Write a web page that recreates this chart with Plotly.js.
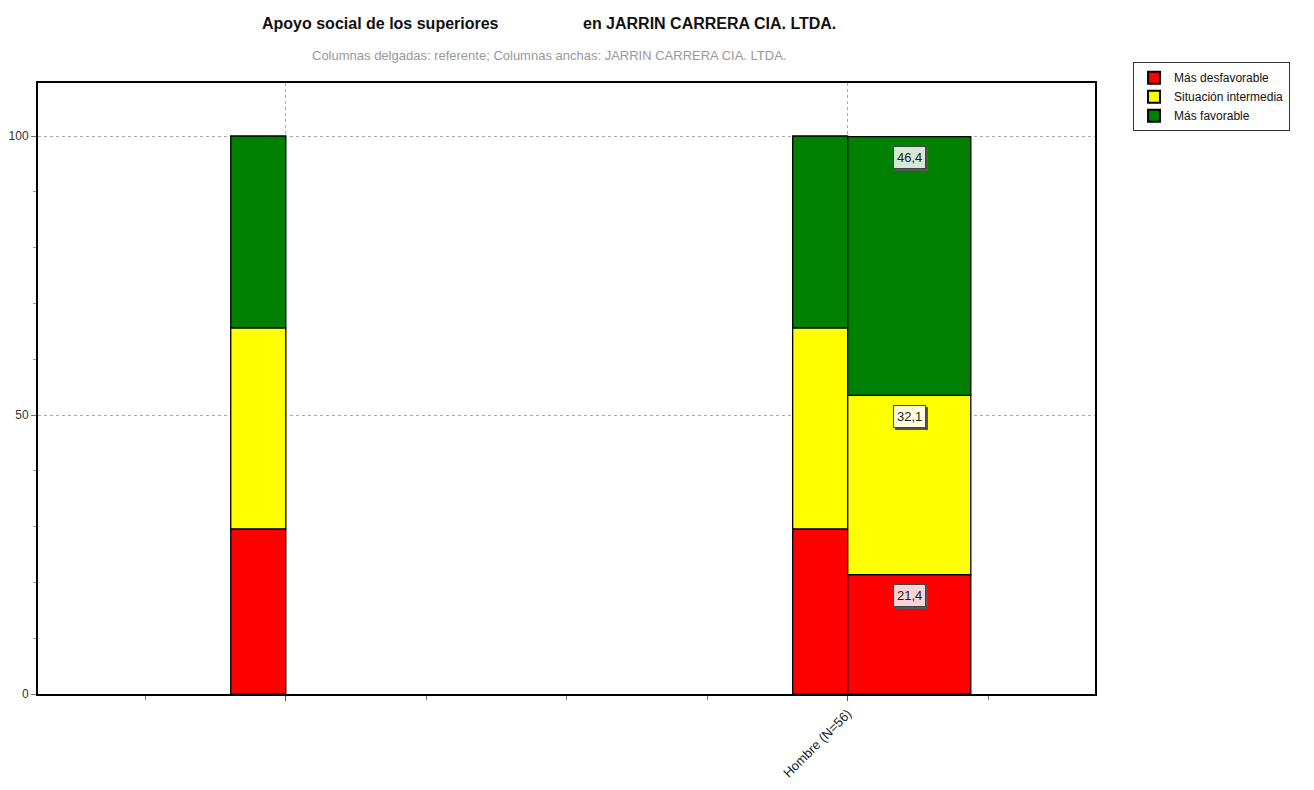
<!DOCTYPE html>
<html>
<head>
<meta charset="utf-8">
<script src="https://cdn.plot.ly/plotly-3.0.1.min.js"></script>
<style>
  html, body { margin: 0; padding: 0; background: #fff; }
  #chart { width: 1314px; height: 790px; }
</style>
</head>
<body>
<div id="chart"></div>
<script>
// Group positions on the x axis and their tick labels
const groupPos = [0, 1];
const groupLabels = ['', 'Hombre (N=56)'];

// Response levels and their colours
const levels = ['Más desfavorable', 'Situación intermedia', 'Más favorable'];
const levelColors = ['#FF0000', '#FFFF00', '#008000'];
const labelBg = ['#F8D4D4', '#FFFFE0', '#D4EAD4'];

// Thin columns: reference population (%)
const refDesfavorable = [29.6, 29.6];
const refIntermedia = [36.0, 36.0];
const refFavorable = [34.4, 34.4];

// Wide columns: company (%)
const empDesfavorable = [null, 21.4];
const empIntermedia = [null, 32.1];
const empFavorable = [null, 46.4];

const thinW = 0.098;
const wideW = 0.219;

const refSeries = [refDesfavorable, refIntermedia, refFavorable];
const empSeries = [empDesfavorable, empIntermedia, empFavorable];

function stackBases(series) {
  const bases = [];
  let run = series[0].map(() => 0);
  series.forEach(s => {
    bases.push(run.slice());
    run = run.map((b, i) => b + (s[i] == null ? 0 : s[i]));
  });
  return bases;
}

const refBases = stackBases(refSeries);
const empBases = stackBases(empSeries);

const traces = [];
levels.forEach((name, k) => {
  traces.push({
    type: 'bar', x: groupPos, y: refSeries[k], base: refBases[k],
    offset: -thinW, width: thinW, name: name, legendgroup: name,
    showlegend: true,
    marker: { color: levelColors[k], line: { color: '#000', width: 1.3 } },
    hoverinfo: 'skip'
  });
});
levels.forEach((name, k) => {
  traces.push({
    type: 'bar', x: groupPos, y: empSeries[k], base: empBases[k],
    offset: 0, width: wideW, name: name, legendgroup: name,
    showlegend: false,
    marker: { color: levelColors[k], line: { color: '#000', width: 1.3 } },
    hoverinfo: 'skip'
  });
});

// Value labels near the top of each wide segment
const annotations = [];
levels.forEach((name, k) => {
  empSeries[k].forEach((v, i) => {
    if (v == null) return;
    const top = empBases[k][i] + v;
    const xc = groupPos[i] + wideW / 2;
    const txt = v.toFixed(1).replace('.', ',');
    // drop shadow
    annotations.push({
      x: xc, y: top, xref: 'x', yref: 'y', text: txt, showarrow: false,
      yshift: -23, xshift: 2, bgcolor: '#555', bordercolor: '#555', borderwidth: 1,
      borderpad: 3, font: { family: 'Liberation Sans, Arial, sans-serif', size: 13, color: 'rgba(0,0,0,0)' }
    });
    annotations.push({
      x: xc, y: top, xref: 'x', yref: 'y', text: txt, showarrow: false,
      yshift: -21, bgcolor: labelBg[k], bordercolor: '#444', borderwidth: 1,
      borderpad: 3, font: { family: 'Liberation Sans, Arial, sans-serif', size: 13, color: '#222' }
    });
  });
});

annotations.push({
  xref: 'paper', yref: 'paper', x: (549 - 38) / 1057, y: 1.0, yshift: 60,
  text: '<b>Apoyo social de los superiores\u00A0\u00A0\u00A0\u00A0\u00A0\u00A0\u00A0\u00A0\u00A0\u00A0\u00A0\u00A0\u00A0\u00A0\u00A0\u00A0\u00A0\u00A0 en JARRIN CARRERA CIA. LTDA.</b>',
  showarrow: false, xanchor: 'center', yanchor: 'middle',
  font: { family: 'Liberation Sans, Arial, sans-serif', size: 16, color: '#111' }
});
annotations.push({
  xref: 'paper', yref: 'paper', x: (549 - 38) / 1057, y: 1.0, yshift: 28,
  text: 'Columnas delgadas: referente; Columnas anchas: JARRIN CARRERA CIA. LTDA.',
  showarrow: false, xanchor: 'center', yanchor: 'middle',
  font: { family: 'Liberation Sans, Arial, sans-serif', size: 13, color: '#999' }
});

const layout = {
  width: 1314, height: 790,
  margin: { l: 38, r: 219, t: 83, b: 96 },
  paper_bgcolor: '#fff', plot_bgcolor: '#fff',
  barmode: 'overlay',
  showlegend: true,
  legend: {
    x: 1.036, y: 1.034, xanchor: 'left', yanchor: 'top',
    bordercolor: '#333', borderwidth: 1, bgcolor: '#fff',
    font: { family: 'Liberation Sans, Arial, sans-serif', size: 12, color: '#111' },
    tracegroupgap: 0, itemsizing: 'constant'
  },
  xaxis: {
    range: [-0.441, 1.44], tickvals: groupPos, ticktext: groupLabels,
    tickangle: -45, ticks: 'outside', ticklen: 5, tickcolor: '#555',
    showgrid: true, gridcolor: '#aaa', griddash: '3px,3px', gridwidth: 1,
    minor: { dtick: 0.25, tick0: 0, ticks: 'outside', ticklen: 4, tickcolor: '#777', showgrid: false },
    showline: true, linecolor: '#000', linewidth: 2, mirror: true,
    zeroline: false, fixedrange: true,
    tickfont: { family: 'Liberation Sans, Arial, sans-serif', size: 13, color: '#222' }
  },
  yaxis: {
    range: [0, 109.5], tickvals: [0, 50, 100], ticks: 'outside', ticklen: 5, tickcolor: '#777',
    showgrid: true, gridcolor: '#aaa', griddash: '3px,3px', gridwidth: 1,
    minor: { dtick: 10, tick0: 0, ticks: 'outside', ticklen: 3, tickcolor: '#999', showgrid: false },
    showline: true, linecolor: '#000', linewidth: 2, mirror: true,
    zeroline: false, fixedrange: true,
    tickfont: { family: 'Liberation Sans, Arial, sans-serif', size: 12, color: '#333' }
  },
  annotations: annotations
};

Plotly.newPlot('chart', traces, layout, { displayModeBar: false, staticPlot: true });
</script>
</body>
</html>
